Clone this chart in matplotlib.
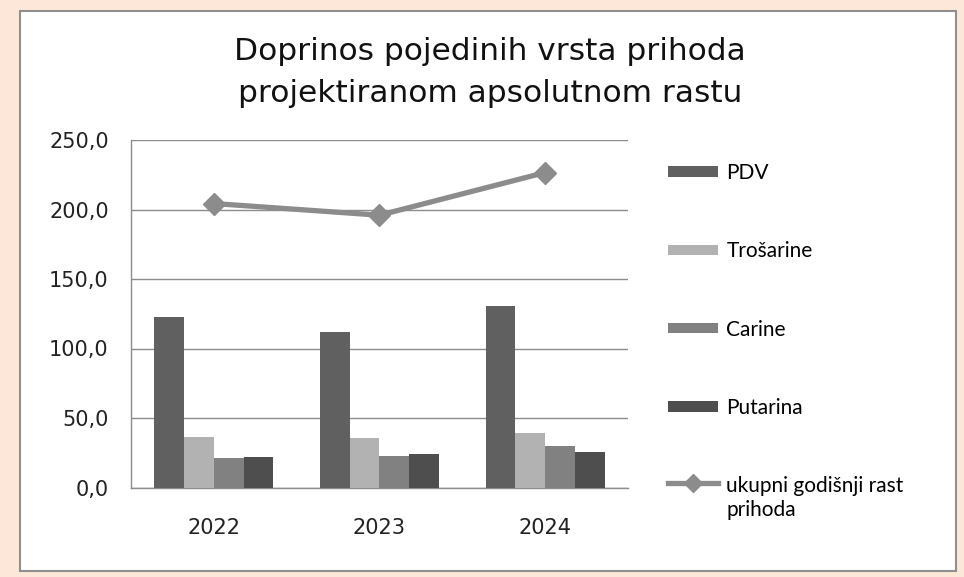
import numpy as np
import matplotlib
matplotlib.use('Agg')
import matplotlib.pyplot as plt
from matplotlib.patches import Patch, Rectangle
from matplotlib.lines import Line2D
from matplotlib.legend_handler import HandlerLine2D

godine = ['2022', '2023', '2024']
pdv = [122.8, 112.1, 130.7]
trosarine = [36.6, 35.5, 39.1]
carine = [20.9, 22.8, 29.5]
putarina = [22.1, 24.0, 25.6]
ukupni_rast = [204.3, 195.9, 226.6]

serije = ['PDV', 'Trošarine', 'Carine', 'Putarina']
boje = ['#606060', '#b2b2b2', '#818181', '#4e4e4e']
boja_linije = '#8c8c8c'

W, H = 964, 577
fig = plt.figure(figsize=(W / 100, H / 100), dpi=100, facecolor='#fde7d8')

# bijeli panel iza svega
fig.patches.append(Rectangle((20 / W, 1 - 571 / H), 936 / W, 560 / H,
                             transform=fig.transFigure, facecolor='white',
                             edgecolor='#8f8f8f', linewidth=1.5, zorder=-5))

ax = fig.add_axes([131 / W, 1 - 487.5 / H, 497 / W, 347.5 / H])
ax.set_facecolor('none')

x = np.arange(len(godine))
sirina = 0.18
for i, (vals, ime, c) in enumerate(zip([pdv, trosarine, carine, putarina], serije, boje)):
    ax.bar(x + (i - 1.5) * sirina, vals, sirina, color=c, label=ime, zorder=3)

ax.plot(x, ukupni_rast, color=boja_linije, lw=3.8, marker='D', markersize=11,
        zorder=4)

ax.set_xlim(-0.5, 2.5)
ax.set_ylim(0, 250)
ax.set_yticks(np.arange(0, 251, 50))
ax.set_yticklabels([f'{v:.1f}'.replace('.', ',') for v in np.arange(0, 251, 50)])
ax.set_xticks(x)
ax.set_xticklabels(godine)
ax.yaxis.grid(True, color='#8c8c8c', lw=1, zorder=0)
ax.tick_params(length=0, labelsize=15, colors='#222222', labelfontfamily='DejaVu Sans')
ax.tick_params(axis='x', pad=22)
ax.tick_params(axis='y', pad=16)
for s in ['top', 'right']:
    ax.spines[s].set_visible(False)
for s in ['left', 'bottom']:
    ax.spines[s].set_color('#8c8c8c')
    ax.spines[s].set_linewidth(1)

fig.text(490 / W, 1 - 52 / H, 'Doprinos pojedinih vrsta prihoda', ha='center',
         va='center', fontsize=22.5, color='#111111')
fig.text(490 / W, 1 - 94 / H, 'projektiranom apsolutnom rastu', ha='center',
         va='center', fontsize=22.5, color='#111111')


# linija u legendi poravnata s prvim redom teksta
class PrviRed(HandlerLine2D):
    def create_artists(self, legend, orig_handle, xdescent, ydescent, width,
                       height, fontsize, trans):
        arts = super().create_artists(legend, orig_handle, xdescent, ydescent,
                                      width, height, fontsize, trans)
        for a in arts:
            a.set_ydata(np.asarray(a.get_ydata()) + 0.78 * fontsize)
        return arts


handles = [Patch(facecolor=c) for c in boje]
linija = Line2D([], [], color=boja_linije, lw=3.8, marker='D', markersize=9)
handles.append(linija)
labels = serije + ['ukupni godišnji rast\nprihoda']
fig.legend(handles, labels, loc='upper left', bbox_to_anchor=(668 / W, 1 - 163 / H),
           frameon=False, borderpad=0, borderaxespad=0, labelspacing=2.8,
           handlelength=2.4, handleheight=0.4, handletextpad=0.4,
           handler_map={linija: PrviRed()},
           prop={'family': 'Lato', 'size': 15})

fig.savefig('out.png', dpi=100, facecolor=fig.get_facecolor())
